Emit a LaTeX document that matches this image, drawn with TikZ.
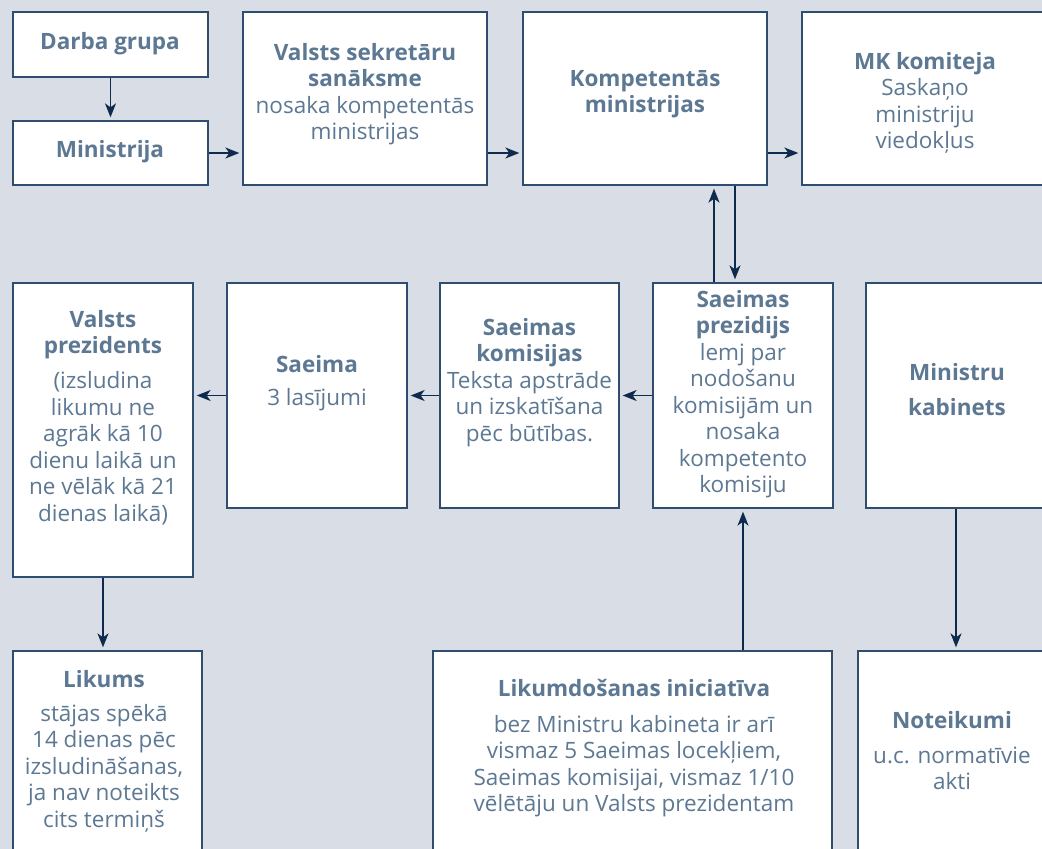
\documentclass[tikz,border=0pt]{standalone}
\usepackage{fontspec}
\setmainfont{Open Sans}
\usepackage{tikz}
\usetikzlibrary{arrows.meta}
\definecolor{bg}{HTML}{D9DEE6}
\definecolor{boxline}{HTML}{2F4D6F}
\definecolor{txtcol}{HTML}{5D7893}
\definecolor{arrcol}{HTML}{0E2A4C}

\begin{document}
\begin{tikzpicture}[x=1pt, y=-1pt,
		box/.style={draw=boxline, line width=1.3pt, fill=white, inner sep=0pt},
		txt/.style={anchor=north, align=center, text=txtcol, inner sep=0pt, yshift=18.55pt,
			font=\fontsize{22.5}{26.5}\selectfont},
		arr/.style={draw=arrcol, line width=1.5pt, -{Stealth[length=14pt, width=11pt, inset=4pt]}, shorten >=3pt}]
				\clip (0,0) rectangle (1042,849);
				\fill[bg] (0,0) rectangle (1042,849);
				% upper row
				\node[box, minimum width=195pt, minimum height=65pt] (darba) at (110.5,44.5) {};
				\node[box, minimum width=195pt, minimum height=64pt] (minis) at (110.5,153) {};
				\node[box, minimum width=244pt, minimum height=173pt] (vss) at (365,98.5) {};
				\node[box, minimum width=244pt, minimum height=173pt] (komp) at (645,98.5) {};
				\node[box, minimum width=258pt, minimum height=173pt] (mkk) at (931,98.5) {};
				% middle row
				\node[box, minimum width=180pt, minimum height=294pt] (vp) at (103,430) {};
				\node[box, minimum width=180pt, minimum height=225pt] (saeima) at (317,395.5) {};
				\node[box, minimum width=179pt, minimum height=225pt] (skom) at (529.5,395.5) {};
				\node[box, minimum width=180pt, minimum height=225pt] (sprez) at (743,395.5) {};
				\node[box, minimum width=214pt, minimum height=225pt] (mkab) at (973,395.5) {};
				% lower row
				\node[box, minimum width=189pt, minimum height=229pt] (likums) at (107.5,765.5) {};
				\node[box, minimum width=399pt, minimum height=229pt] (init) at (632.5,765.5) {};
				\node[box, minimum width=222pt, minimum height=229pt] (noteik) at (969,765.5) {};

				% texts (y = baseline of first line)
				\node[txt] (darbaT) at (110,49) {\strut\textbf{Darba grupa}};
				\node[txt] (minisT) at (110,157) {\strut\textbf{Ministrija}};
				\node[txt] (vssT) at (365,60) {\strut\textbf{Valsts sekretāru}\\\textbf{sanāksme}\\nosaka kompetentās\\ministrijas};
				\node[txt] (kompT) at (645,86) {\strut\textbf{Kompetentās}\\\textbf{ministrijas}};
				\node[txt] (mkkT) at (925,69) {\strut\textbf{MK komiteja}\\Saskaņo\\ministriju\\viedokļus};
				\node[txt] (vpT) at (103,327) {\strut\textbf{Valsts}\\\textbf{prezidents}\\[8.5pt](izsludina\\likumu ne\\agrāk kā 10\\dienu laikā un\\ne vēlāk kā 21\\dienas laikā)};
				\node[txt] (saeimaT) at (317,372) {\strut\textbf{Saeima}\\[6.5pt]3 lasījumi};
				\node[txt] (skomT) at (529.5,335) {\strut\textbf{Saeimas}\\\textbf{komisijas}\\Teksta apstrāde\\un izskatīšana\\pēc būtības.};
				\node[txt] (sprezT) at (743,307) {\strut\textbf{Saeimas}\\\textbf{prezidijs}\\lemj par\\nodošanu\\komisijām un\\nosaka\\kompetento\\komisiju};
				\node[txt] (mkabT) at (957,380) {\strut\textbf{Ministru}\\[8.5pt]\textbf{kabinets}};
				\node[txt] (likumsT) at (104,687) {\strut\textbf{Likums}\\[7.5pt]stājas spēkā\\14 dienas pēc\\izsludināšanas,\\ja nav noteikts\\cits termiņš};
				\node[txt] (initT) at (634,696) {\strut\textbf{Likumdošanas iniciatīva}\\[9.5pt]bez Ministru kabineta ir arī\\vismaz 5 Saeimas locekļiem,\\Saeimas komisijai, vismaz 1/10\\vēlētāju un Valsts prezidentam};
				\node[txt] (noteikT) at (952,728) {\strut\textbf{Noteikumi}\\[8.5pt]u.c. normatīvie\\akti};

				% arrows
				\coordinate (up) at ([xshift=-29pt]sprez.north);
				\coordinate (dn) at ([xshift=-8pt]sprez.north);
				\coordinate (mk) at ([xshift=-17pt]mkab.south);
				\draw[arr] (darba) -- (minis);
				\draw[arr] (minis.east) -- (minis.east -| vss.west);
				\draw[arr] (vss.east |- minis.east) -- (komp.west |- minis.east);
				\draw[arr] (komp.east |- minis.east) -- (mkk.west |- minis.east);
				\draw[arr] (up) -- (komp.south -| up);
				\draw[arr] (komp.south -| dn) -- (dn);
				\draw[arr] (sprez.west) -- (skom.east);
				\draw[arr] (skom.west) -- (saeima.east);
				\draw[arr] (saeima.west) -- (saeima.west -| vp.east);
				\draw[arr] (vp.south) -- (vp.south |- likums.north);
				\draw[arr] (init.north -| sprez.south) -- (sprez.south);
				\draw[arr] (mk) -- (mk |- noteik.north);
			\end{tikzpicture}
\end{document}
